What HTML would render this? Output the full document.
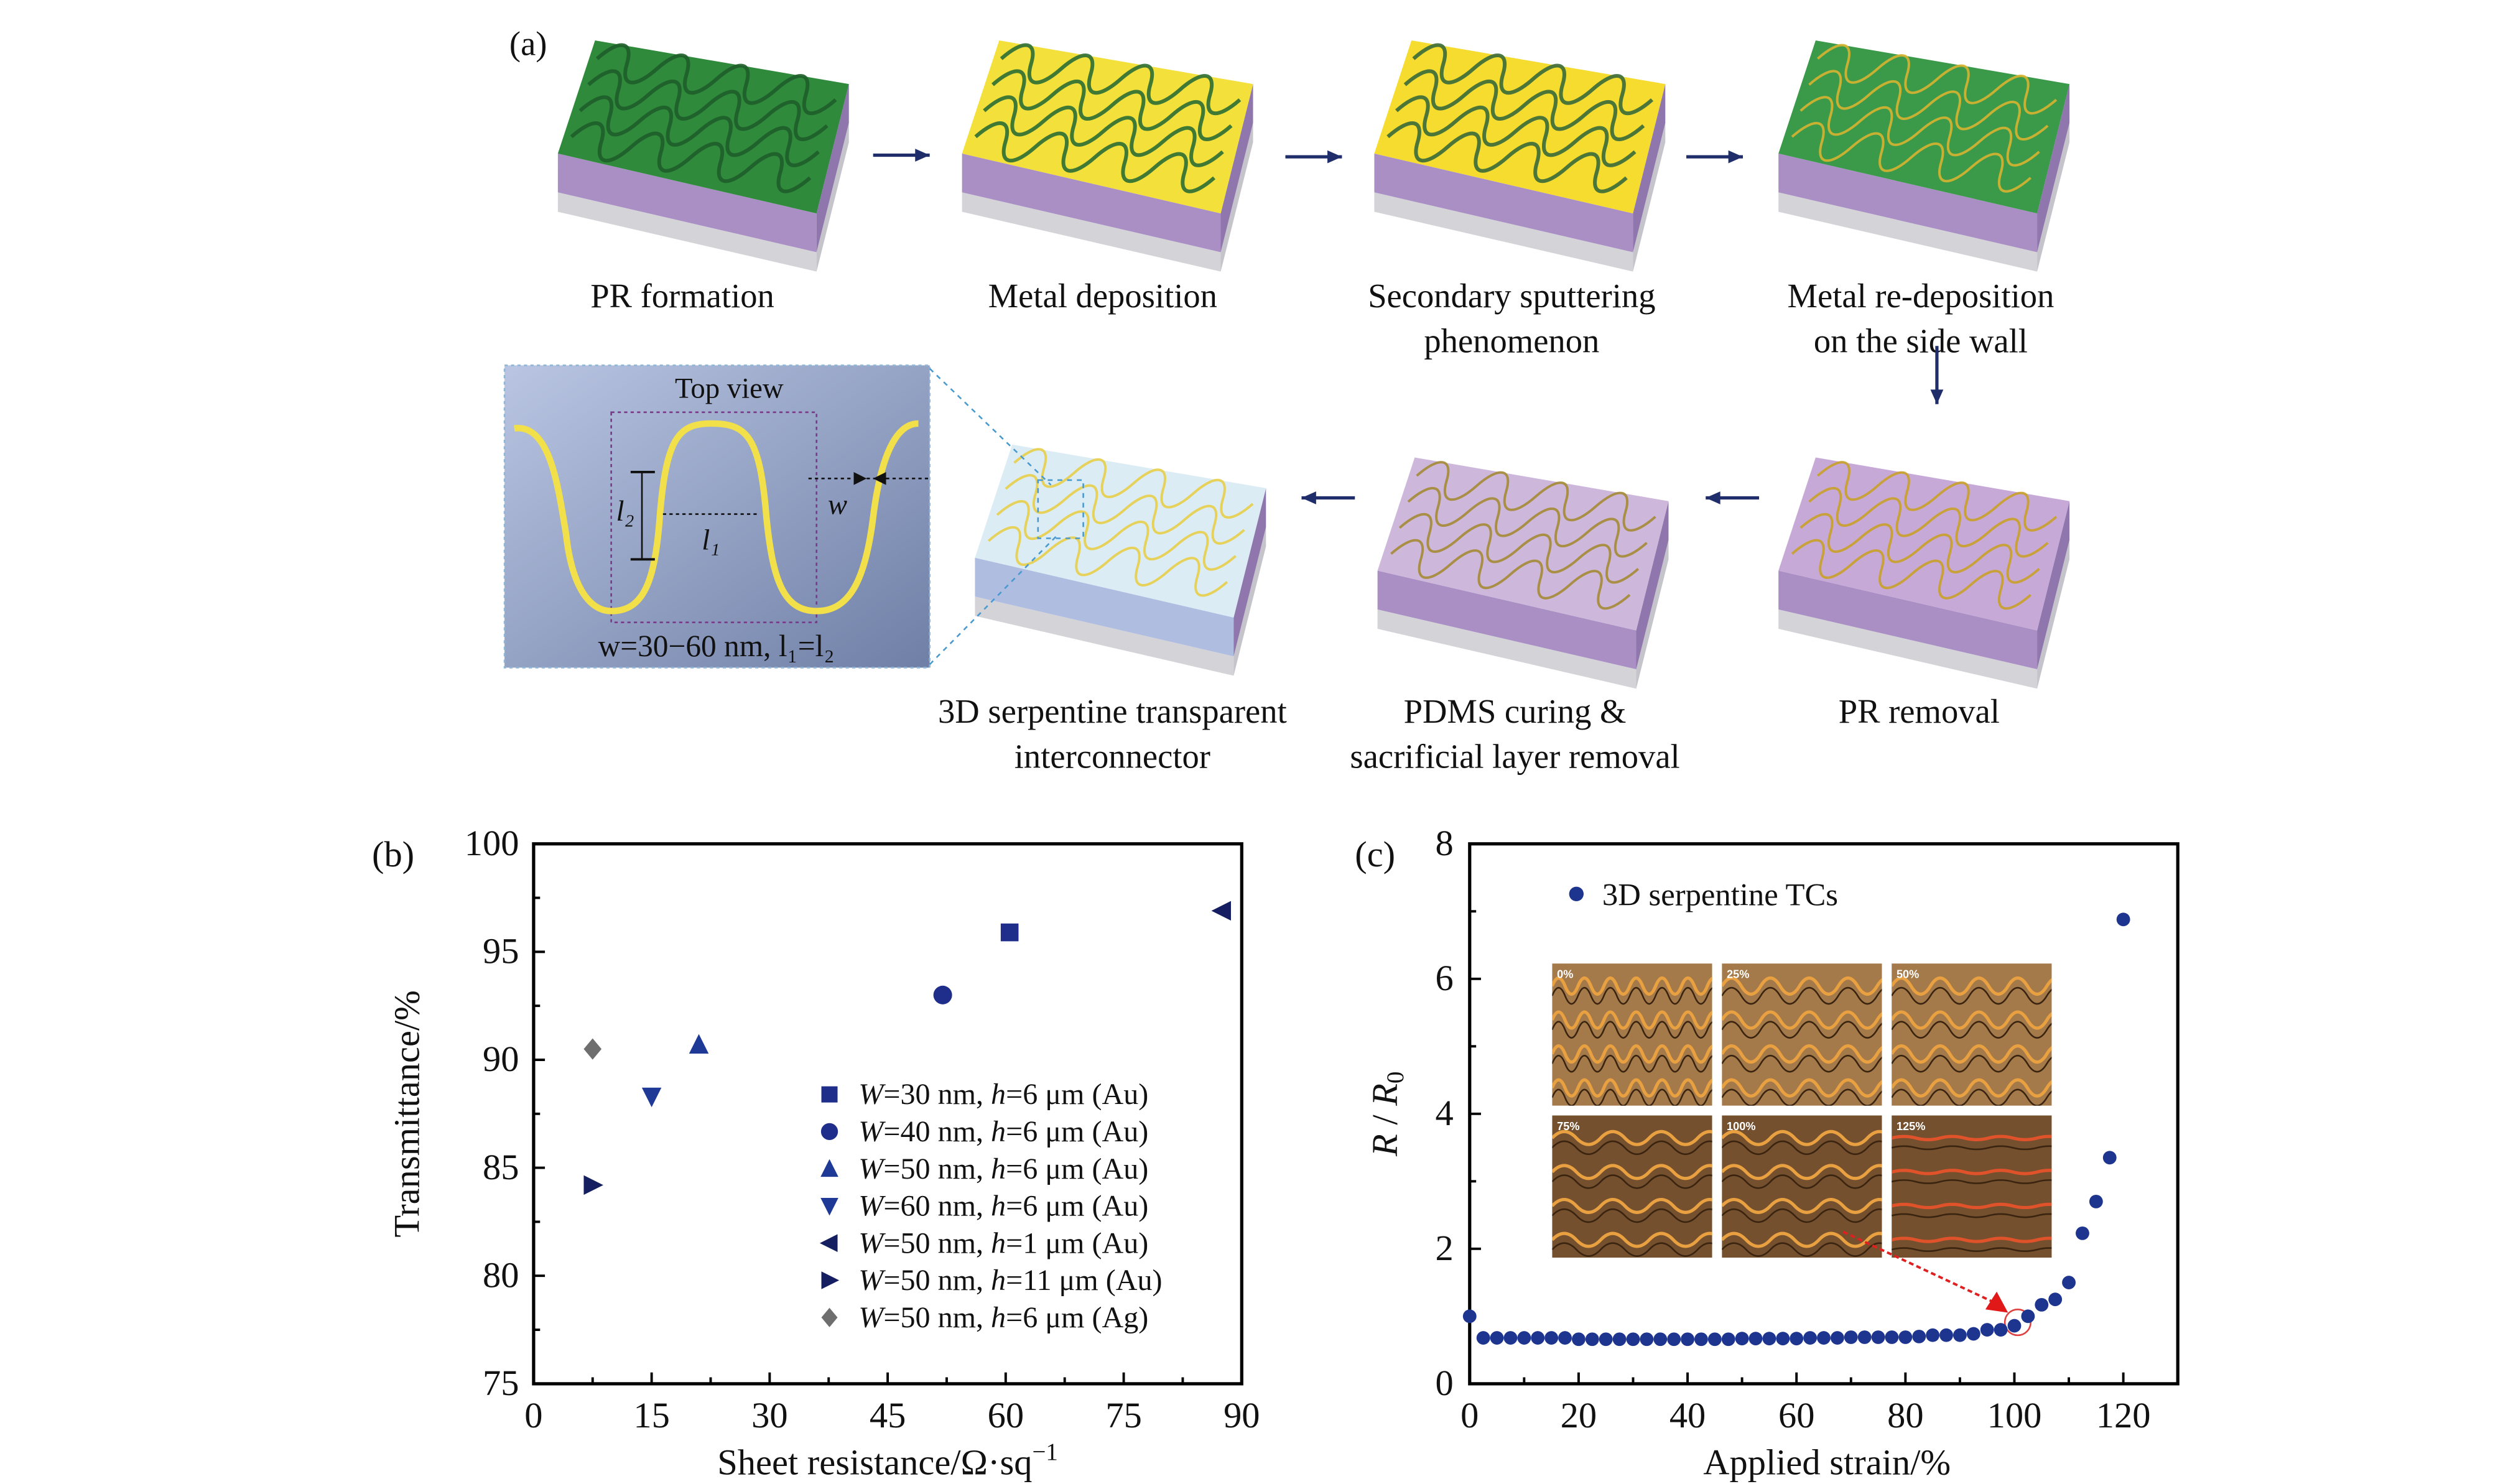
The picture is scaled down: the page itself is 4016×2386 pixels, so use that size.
<!DOCTYPE html>
<html><head><meta charset="utf-8"><style>
html,body{margin:0;padding:0;background:#fff}
svg{display:block}
text{font-family:"Liberation Serif",serif;fill:#111}
</style></head><body>
<svg id="fig" width="4016" height="2386" viewBox="0 0 1545 918" xmlns="http://www.w3.org/2000/svg">
<defs>
<linearGradient id="bgTop" x1="0" y1="0" x2="1" y2="1"><stop offset="0" stop-color="#b9c5e2"/><stop offset="1" stop-color="#6f7fa6"/></linearGradient>
</defs>
<g id="panelA"></g>
<g id="chartB"></g>
<g id="chartC"></g>
</svg>
<script>
// ---------- Chart (b) data ----------
const bX = [60.5, 52, 21, 15, 87.5, 7.5, 7.5];
const bY = [95.9, 93.0, 90.7, 88.3, 96.9, 84.2, 90.5];
const bShapes = ['square','circle','up','down','left','right','diamond'];
const bLabels = ['30 nm, ','40 nm, ','50 nm, ','60 nm, ','50 nm, ','50 nm, ','50 nm, '];
const bH = ['6 μm (Au)','6 μm (Au)','6 μm (Au)','6 μm (Au)','1 μm (Au)','11 μm (Au)','6 μm (Ag)'];
const bXTicks = [0,15,30,45,60,75,90];
const bYTicks = [75,80,85,90,95,100];
// ---------- Chart (c) data ----------
const cX = [0,2.5,5,7.5,10,12.5,15,17.5,20,22.5,25,27.5,30,32.5,35,37.5,40,42.5,45,47.5,50,52.5,55,57.5,60,62.5,65,67.5,70,72.5,75,77.5,80,82.5,85,87.5,90,92.5,95,97.5,100,102.5,105,107.5,110,112.5,115,117.5,120];
const cY = [1.0,0.68,0.68,0.68,0.68,0.68,0.68,0.68,0.66,0.66,0.66,0.66,0.66,0.66,0.66,0.66,0.66,0.66,0.66,0.66,0.67,0.67,0.67,0.67,0.67,0.68,0.68,0.68,0.69,0.69,0.69,0.69,0.69,0.7,0.72,0.72,0.72,0.74,0.8,0.8,0.86,1.0,1.17,1.25,1.5,2.23,2.7,3.35,6.88];
const cXTicks = [0,20,40,60,80,100,120];
const cYTicks = [0,2,4,6,8];

const NS='http://www.w3.org/2000/svg';
function mk(parent,tag,attrs,txt){const e=document.createElementNS(NS,tag);for(const k in attrs)e.setAttribute(k,attrs[k]);if(txt!==undefined)e.textContent=txt;parent.appendChild(e);return e;}
const FS=22.5;

// ================= Panel (a) =================
const A=document.getElementById('panelA');
let t=mk(A,'text',{x:315,y:34,'font-size':21},'(a)');



function block(cx,cy,topColor,pattern,base,walls){
  const g=mk(A,'g',{});
  
  
  const P=[[cx-85,cy+5],[cx-62,cy-65],[cx+95,cy-38],[cx+75,cy+42]];
  const P2=P.map(p=>[p[0],p[1]+24]);
  const P3=P.map(p=>[p[0],p[1]+36]);
  const poly=(pts)=>pts.map(p=>p.join(',')).join(' ');
  const b=base||'#a98fc4';
  mk(g,'polygon',{points:poly([P2[0],P2[3],P3[3],P3[0]]),fill:'#d3d3d8'});
  mk(g,'polygon',{points:poly([P2[3],P2[2],P3[2],P3[3]]),fill:'#c4c4ca'});
  mk(g,'polygon',{points:poly([P[0],P[3],P2[3],P2[0]]),fill:b});
  mk(g,'polygon',{points:poly([P[3],P[2],P2[2],P2[3]]),fill:'#8f76ad'});
  mk(g,'polygon',{points:poly(P),fill:topColor});
  const B0=P[1],u=[P[2][0]-B0[0],P[2][1]-B0[1]],v=[P[0][0]-B0[0],P[0][1]-B0[1]];
  const pg=mk(g,'g',{transform:`matrix(${u[0]},${u[1]},${v[0]},${v[1]},${B0[0]},${B0[1]})`});
  for(let r=0;r<4;r++){
    const y0=0.15+r*0.23;
    let d='M0.03,'+y0;
    for(let k=0;k<4;k++){const x0=0.03+k*0.235;d+=` C${x0+0.06},${y0-0.2} ${x0+0.115},${y0-0.2} ${x0+0.1175},${y0} S${x0+0.175},${y0+0.2} ${x0+0.235},${y0}`;}
    mk(pg,'path',{d:d,fill:'none',stroke:pattern,'stroke-width':walls?4:6,'vector-effect':'non-scaling-stroke',opacity:0.9});
  }
  return g;
}
block(430,90,'#2f8a3c','#1f5e2a');
block(680,90,'#f3e03a','#2d6e34');
block(935,90,'#f6dc2e','#3a6a3a');
block(1185,90,'#3a9a4a','#d8b430',null,true);
block(1185,348,'#c7a9d8','#c9a12a',null,true);
block(937,348,'#cdb8dc','#a68a35',null,true);
block(688,340,'#dcecf4','#e8d04a','#aebde0',true);

function label(x,y,s,name){const e=mk(A,'text',{x:x,y:y,'font-size':21,'text-anchor':'middle'},s);}
label(422,190,'PR formation','label-pr-formation');
label(682,190,'Metal deposition','label-metal-deposition');
label(935,190,'Secondary sputtering','label-secondary-sputtering');
label(935,218,'phenomenon','label-secondary-sputtering-2');
label(1188,190,'Metal re-deposition','label-metal-redeposition');
label(1188,218,'on the side wall','label-metal-redeposition-2');
label(688,447,'3D serpentine transparent','label-3d-serpentine');
label(688,475,'interconnector','label-3d-serpentine-2');
label(937,447,'PDMS curing &','label-pdms-curing');
label(937,475,'sacrificial layer removal','label-pdms-curing-2');
label(1187,447,'PR removal','label-pr-removal');

function arrow(x1,y1,x2,y2){
  const g=mk(A,'g',{});
  
  
  mk(g,'line',{x1:x1,y1:y1,x2:x2,y2:y2,stroke:'#1f2d6b','stroke-width':2});
  const dx=Math.sign(x2-x1),dy=Math.sign(y2-y1);
  if(dx) mk(g,'polygon',{points:`${x2},${y2} ${x2-dx*9},${y2-4} ${x2-dx*9},${y2+4}`,fill:'#1f2d6b'});
  else mk(g,'polygon',{points:`${x2},${y2} ${x2-4},${y2-dy*9} ${x2+4},${y2-dy*9}`,fill:'#1f2d6b'});
}
arrow(540,96,575,96);arrow(795,97,830,97);arrow(1043,97,1078,97);
arrow(1198,214,1198,250);arrow(838,308,805,308);arrow(1088,308,1055,308);

// top view inset
const tv=mk(A,'g',{});


mk(tv,'rect',{x:312,y:226,width:263,height:187,fill:'url(#bgTop)',stroke:'#8fb6d6','stroke-dasharray':'2,2'});
mk(tv,'rect',{x:378,y:255,width:127,height:130,fill:'none',stroke:'#7a3a8a','stroke-dasharray':'2,2'});
mk(tv,'path',{d:'M318,265 C340,262 345,300 350,330 C355,375 372,378 378,378 C398,378 405,360 408,320 C412,270 420,262 440,262 C462,262 470,270 474,320 C478,360 485,378 505,378 C525,378 535,360 540,320 C545,280 555,262 568,262',fill:'none',stroke:'#f2e04a','stroke-width':4});
mk(tv,'line',{x1:397,y1:292,x2:397,y2:346,stroke:'#111','stroke-width':1});
mk(tv,'line',{x1:390,y1:292,x2:405,y2:292,stroke:'#111','stroke-width':1.5});
mk(tv,'line',{x1:390,y1:346,x2:405,y2:346,stroke:'#111','stroke-width':1.5});
mk(tv,'line',{x1:410,y1:318,x2:470,y2:318,stroke:'#111','stroke-width':1,'stroke-dasharray':'2,2'});
mk(tv,'line',{x1:500,y1:296,x2:575,y2:296,stroke:'#111','stroke-width':1,'stroke-dasharray':'2,2'});
mk(tv,'polygon',{points:'536,296 528,292 528,300',fill:'#111'});
mk(tv,'polygon',{points:'540,296 548,292 548,300',fill:'#111'});
mk(tv,'text',{x:451,y:246,'font-size':18,'text-anchor':'middle'},'Top view');
mk(tv,'text',{x:381,y:322,'font-size':18,'font-style':'italic'},'l₂');
mk(tv,'text',{x:434,y:340,'font-size':18,'font-style':'italic'},'l₁');
mk(tv,'text',{x:512,y:318,'font-size':18,'font-style':'italic'},'w');
mk(tv,'text',{x:443,y:406,'font-size':19,'text-anchor':'middle'},'w=30−60 nm, l₁=l₂');
mk(A,'line',{x1:575,y1:228,x2:650,y2:300,stroke:'#4a9ad0','stroke-dasharray':'3,3'});
mk(A,'line',{x1:575,y1:411,x2:655,y2:330,stroke:'#4a9ad0','stroke-dasharray':'3,3'});
mk(A,'rect',{x:642,y:297,width:28,height:36,fill:'none',stroke:'#4a9ad0','stroke-dasharray':'3,3'});

// ================= Chart (b) =================
const B=document.getElementById('chartB');
const bL=330,bR=768,bT=522,bB=856;
const bx=v=>bL+(v-0)/(90-0)*(bR-bL);
const by=v=>bB-(v-75)/(100-75)*(bB-bT);
let f=mk(B,'rect',{x:bL,y:bT,width:bR-bL,height:bB-bT,fill:'none',stroke:'#000','stroke-width':2});


for(let v=0;v<=90;v+=7.5){const x=bx(v);mk(B,'line',{x1:x,y1:bB,x2:x,y2:bB-(v%15?4:7),stroke:'#000','stroke-width':1.5});}
for(let v=75;v<=100;v+=2.5){const y=by(v);mk(B,'line',{x1:bL,y1:y,x2:bL+(v%5?4:7),y2:y,stroke:'#000','stroke-width':1.5});}
bXTicks.forEach(v=>{const e=mk(B,'text',{x:bx(v),y:bB+27,'font-size':FS,'text-anchor':'middle'},String(v));});
bYTicks.forEach(v=>{const e=mk(B,'text',{x:bL-9,y:by(v)+7,'font-size':FS,'text-anchor':'end'},String(v));});
let xt=mk(B,'text',{x:549,y:912,'font-size':FS,'text-anchor':'middle'});


mk(xt,'tspan',{},'Sheet resistance/Ω·sq');
mk(xt,'tspan',{'font-size':15,dy:-9},'−1');
let yt=mk(B,'text',{x:0,y:0,'font-size':FS,'text-anchor':'middle',transform:`translate(259,689) rotate(-90)`},'Transmittance/%');


mk(B,'text',{x:230,y:536,'font-size':FS},'(b)');
function marker(g,shape,x,y,s,col){
  let e;
  if(shape==='square') e=mk(g,'rect',{x:x-s,y:y-s,width:2*s,height:2*s,fill:col});
  else if(shape==='circle') e=mk(g,'circle',{cx:x,cy:y,r:s*1.05,fill:col});
  else if(shape==='up') e=mk(g,'polygon',{points:`${x},${y-s*1.2} ${x-s*1.1},${y+s} ${x+s*1.1},${y+s}`,fill:col});
  else if(shape==='down') e=mk(g,'polygon',{points:`${x},${y+s*1.2} ${x-s*1.1},${y-s} ${x+s*1.1},${y-s}`,fill:col});
  else if(shape==='left') e=mk(g,'polygon',{points:`${x-s*1.2},${y} ${x+s},${y-s*1.1} ${x+s},${y+s*1.1}`,fill:col});
  else if(shape==='right') e=mk(g,'polygon',{points:`${x+s*1.2},${y} ${x-s},${y-s*1.1} ${x-s},${y+s*1.1}`,fill:col});
  else e=mk(g,'polygon',{points:`${x},${y-s*1.2} ${x+s},${y} ${x},${y+s*1.2} ${x-s},${y}`,fill:col});
  return e;
}
const bCols=['#1e2e8a','#1e2e8a','#1e3a96','#1e3a96','#141e60','#141e60','#6e6e6e'];
bX.forEach((v,i)=>{
  const m=marker(B,bShapes[i],bx(v),by(bY[i]),5.5,bCols[i]);
  
  
});
bLabels.forEach((l,i)=>{
  const y=677+i*23;
  const m=marker(B,bShapes[i],513,y,5,bCols[i]);
  
  
  const e=mk(B,'text',{x:531,y:y+6,'font-size':18.5});
  
  
  mk(e,'tspan',{'font-style':'italic'},'W');
  mk(e,'tspan',{},'=' + l);
  mk(e,'tspan',{'font-style':'italic'},'h');
  mk(e,'tspan',{},'=' + bH[i]);
});

// ================= Chart (c) =================
const C=document.getElementById('chartC');
const cL=909,cR=1347,cT=522,cB=856;
const cx=v=>cL+v/130*(cR-cL);
const cy=v=>cB-v/8*(cB-cT);
const ph=mk(C,'g',{});


const labs=['0%','25%','50%','75%','100%','125%'];
labs.forEach((l,i)=>{
  const col=i%3,row=Math.floor(i/3);
  const x=960+col*105,y=596+row*94,w=99,h=88;
  const cid='clip'+i;
  const cp=mk(ph,'clipPath',{id:cid});mk(cp,'rect',{x:x,y:y,width:w,height:h});
  const g=mk(ph,'g',{'clip-path':`url(#${cid})`});
  mk(g,'rect',{x:x,y:y,width:w,height:h,fill:row? '#74502e':'#a47a4a'});
  for(let r=0;r<4;r++){
    const yy=y+14+r*21;
    let d='M'+x+','+yy;
    const amp=i===5?2:(row?8:10),per=i<1?16:(i<3?24:30);
    for(let k=0;k<=w/per;k++){const x0=x+k*per;d+=` Q${x0+per/4},${yy-amp} ${x0+per/2},${yy} T${x0+per},${yy}`;}
    mk(g,'path',{d:d,fill:'none',stroke:i===5?'#e0522a':'#e8a040','stroke-width':2});
    mk(g,'path',{d:d,fill:'none',stroke:'#3a2410','stroke-width':1,transform:'translate(0,6)'});
  }
  const tx=mk(g,'text',{x:x+3,y:y+9,'font-size':7,'font-weight':'bold'},l);
  tx.setAttribute('style','fill:#fff;font-family:Liberation Sans');
});
mk(C,'line',{x1:1140,y1:762,x2:1232,y2:805,stroke:'#e02020','stroke-width':1.5,'stroke-dasharray':'3,2'});
mk(C,'polygon',{points:'1242,812 1228,810 1235,799',fill:'#e01818'});
mk(C,'circle',{cx:1248,cy:818,r:8,fill:'none',stroke:'#e04040','stroke-width':1});

f=mk(C,'rect',{x:cL,y:cT,width:cR-cL,height:cB-cT,fill:'none',stroke:'#000','stroke-width':2});


for(let v=0;v<=130;v+=10){const x=cx(v);mk(C,'line',{x1:x,y1:cB,x2:x,y2:cB-(v%20?4:7),stroke:'#000','stroke-width':1.5});}
for(let v=0;v<=8;v+=1){const y=cy(v);mk(C,'line',{x1:cL,y1:y,x2:cL+(v%2?4:7),y2:y,stroke:'#000','stroke-width':1.5});}
cXTicks.forEach(v=>{const e=mk(C,'text',{x:cx(v),y:cB+27,'font-size':FS,'text-anchor':'middle'},String(v));});
cYTicks.forEach(v=>{const e=mk(C,'text',{x:cL-10,y:cy(v)+7,'font-size':FS,'text-anchor':'end'},String(v));});
xt=mk(C,'text',{x:1130,y:912,'font-size':FS,'text-anchor':'middle'},'Applied strain/%');


yt=mk(C,'text',{x:0,y:0,'font-size':FS,'text-anchor':'middle',transform:`translate(864,689) rotate(-90)`});


mk(yt,'tspan',{'font-style':'italic'},'R');mk(yt,'tspan',{},' / ');mk(yt,'tspan',{'font-style':'italic'},'R');mk(yt,'tspan',{'font-size':15,dy:4},'0');
mk(C,'text',{x:838,y:536,'font-size':FS},'(c)');
cX.forEach((v,i)=>{
  const p=mk(C,'circle',{cx:cx(v),cy:cy(cY[i]),r:4.2,fill:'#1e3590'});
  
  
});
let lm=mk(C,'circle',{cx:975,cy:553,r:4.5,fill:'#1e3590'});


let le=mk(C,'text',{x:991,y:560,'font-size':19.5},'3D serpentine TCs');


</script>
</body></html>
